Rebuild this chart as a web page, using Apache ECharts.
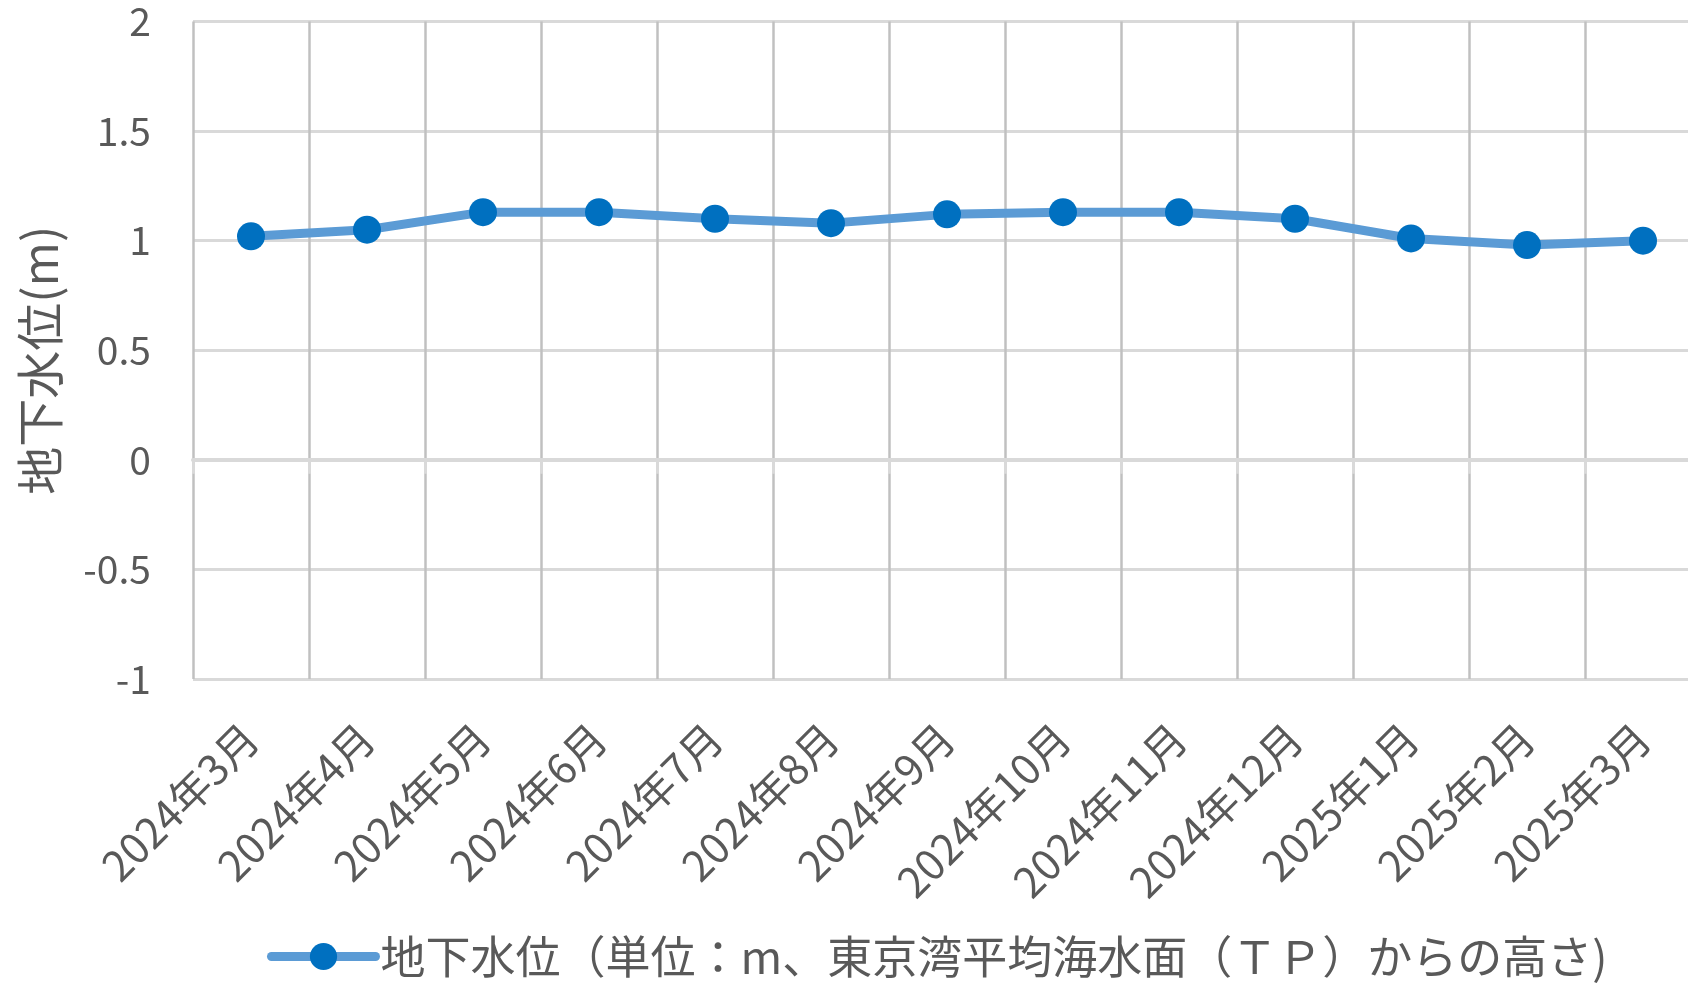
<!DOCTYPE html>
<html>
<head>
<meta charset="utf-8">
<script src="https://cdn.jsdelivr.net/npm/echarts@6/dist/echarts.min.js"></script>
<style>
html,body{margin:0;padding:0;background:#fff;overflow:hidden;width:1688px;height:984px;}
#chart{width:1701px;height:984px;}
</style>
</head>
<body>
<div id="chart"></div>
<script>
const categories = ['2024年3月','2024年4月','2024年5月','2024年6月','2024年7月','2024年8月','2024年9月','2024年10月','2024年11月','2024年12月','2025年1月','2025年2月','2025年3月'];
const waterLevel = [1.02, 1.05, 1.13, 1.13, 1.10, 1.08, 1.12, 1.13, 1.13, 1.10, 1.01, 0.98, 1.00];
const seriesName = '地下水位（単位：m、東京湾平均海水面（ＴＰ）からの高さ)';
const yAxisTitle = '地下水位(m)';
const yMin = -1, yMax = 2, yStep = 0.5;

const FONT = '"Noto Sans CJK JP", "Noto Sans", sans-serif';
const TXT = '#595959';

const chart = echarts.init(document.getElementById('chart'), null, {renderer: 'canvas'});
chart.setOption({
  backgroundColor: '#ffffff',
  animation: false,
  textStyle: {fontFamily: FONT, color: TXT},
  grid: {left: 193, top: 21.5, right: 0, bottom: 305, containLabel: false},
  legend: {
    show: true,
    left: 262,
    top: 929,
    itemWidth: 104,
    itemHeight: 34,
    itemGap: 10,
    lineStyle: {width: 9, color: '#5b9bd5', cap: 'round'},
    itemStyle: {color: '#0070c0'},
    textStyle: {fontFamily: FONT, fontSize: 45, color: TXT},
    data: [seriesName]
  },
  xAxis: [
    {
      type: 'category',
      data: categories,
      position: 'bottom',
      boundaryGap: true,
      axisLine: {show: false, onZero: false},
      axisTick: {show: false},
      axisLabel: {interval: 0, rotate: 45, margin: 52, fontSize: 42, color: TXT, fontFamily: FONT},
      splitLine: {show: true, interval: 0, lineStyle: {color: '#c0c0c0', width: 2.5}}
    },
    {
      type: 'category',
      data: categories,
      position: 'bottom',
      boundaryGap: true,
      axisLine: {show: true, onZero: true, lineStyle: {color: '#d9d9d9', width: 4}},
      axisTick: {show: true, interval: 0, length: 14, lineStyle: {color: '#d9d9d9', width: 3}},
      axisLabel: {show: false},
      splitLine: {show: false}
    }
  ],
  yAxis: {
    type: 'value',
    min: yMin,
    max: yMax,
    interval: yStep,
    name: yAxisTitle,
    nameLocation: 'middle',
    nameRotate: 90,
    nameGap: 129,
    nameTextStyle: {fontSize: 48, color: TXT, fontFamily: FONT, padding: [0, 20, 0, 0]},
    axisLine: {show: false},
    axisTick: {show: false},
    axisLabel: {fontSize: 39, color: TXT, margin: 42, fontFamily: FONT},
    splitLine: {show: true, lineStyle: {color: '#d9d9d9', width: 3}}
  },
  series: [{
    name: seriesName,
    type: 'line',
    xAxisIndex: 0,
    data: waterLevel,
    symbol: 'circle',
    symbolSize: 28,
    lineStyle: {color: '#5b9bd5', width: 9},
    itemStyle: {color: '#0070c0'},
    z: 5
  }]
});
</script>
</body>
</html>
